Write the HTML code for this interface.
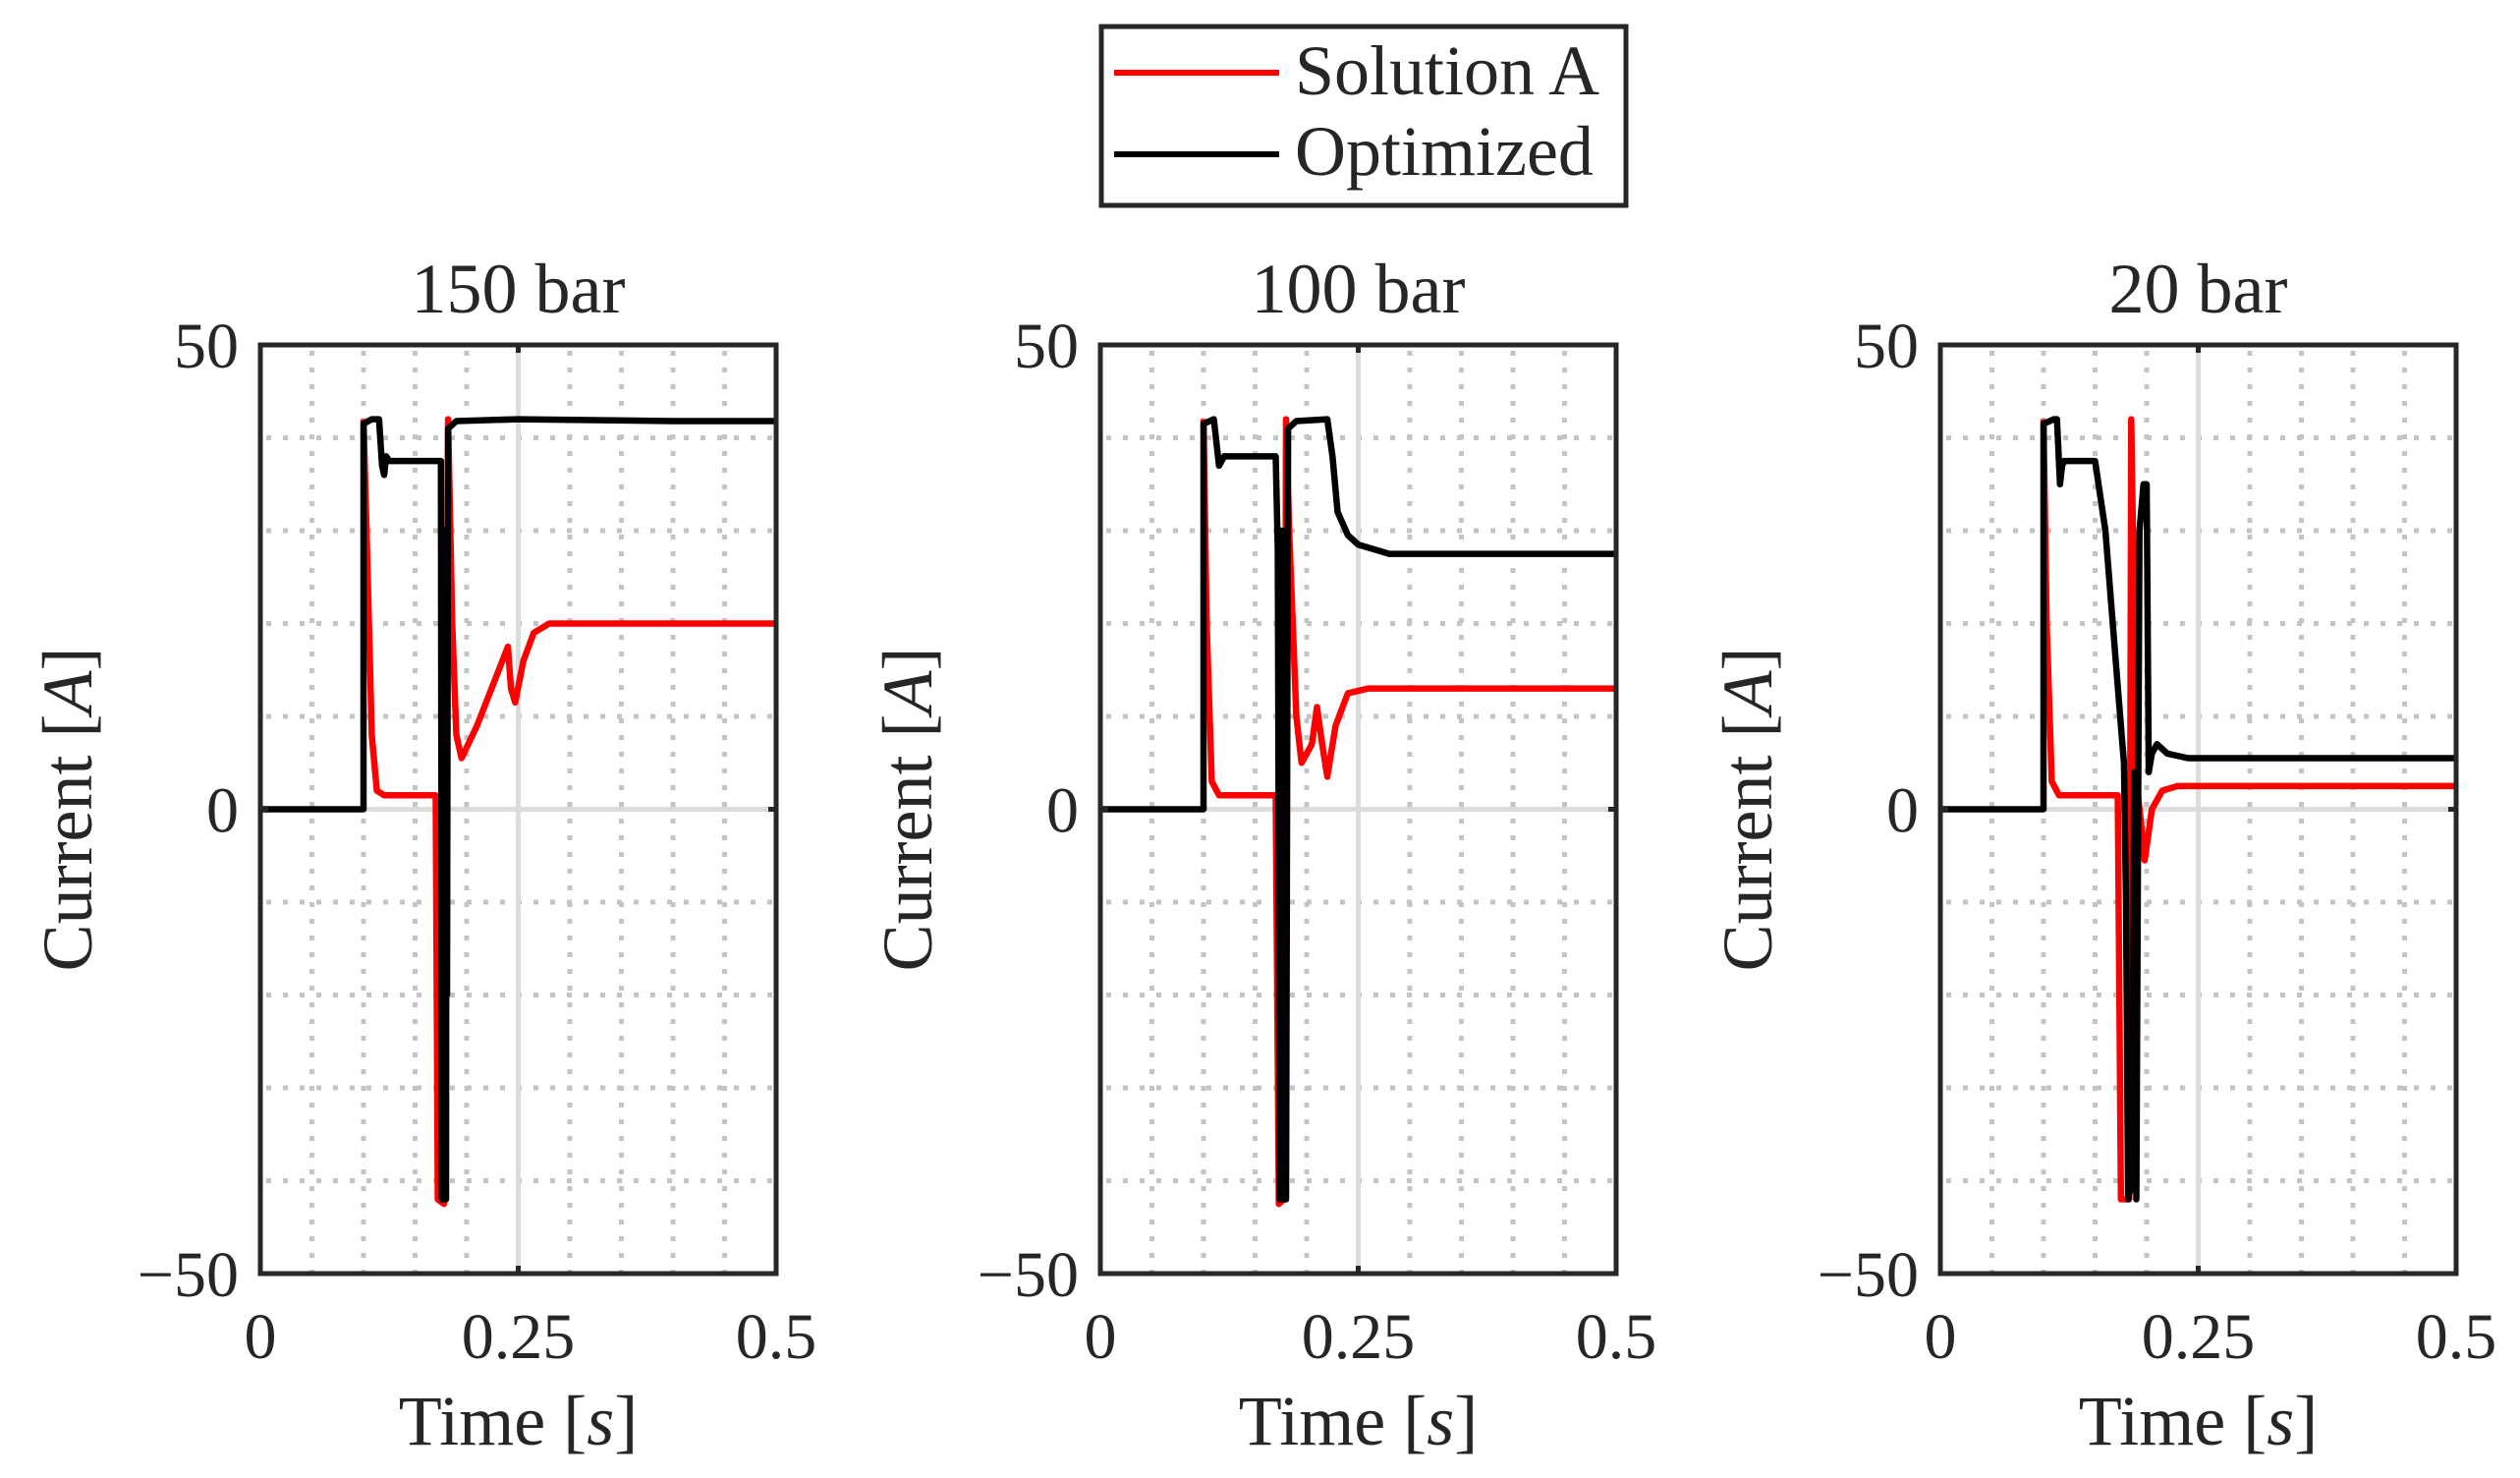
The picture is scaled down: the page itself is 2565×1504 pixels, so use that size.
<!DOCTYPE html>
<html><head><meta charset="utf-8"><style>
html,body{margin:0;padding:0;background:#fff;}
svg{display:block;}
text{font-family:"Liberation Serif",serif;fill:#262626;}
</style></head><body>
<svg id="fig" width="2565" height="1504" viewBox="0 0 2565 1504" xmlns="http://www.w3.org/2000/svg">
<g id="legend">
<rect x="1121" y="27" width="534" height="182" fill="#fff" stroke="#262626" stroke-width="5"/>
<g><line x1="1134" y1="74" x2="1302" y2="74" stroke="#ff0000" stroke-width="6"/><text x="1318" y="96" font-size="72" fill="#000">Solution A</text></g>
<g><line x1="1134" y1="157" x2="1302" y2="157" stroke="#000" stroke-width="6"/><text x="1318" y="178" font-size="72" fill="#000">Optimized</text></g>
</g>
</svg>
<script>
const titles = ["150 bar","100 bar","20 bar"];
const xTicks = [0,0.25,0.5];
const xTickLabels = ["0","0.25","0.5"];
const yTicks = [-50,0,50];
const yTickLabels = ["\u221250","0","50"];
const opt150t = [0,0.1,0.1,0.108,0.115,0.118,0.12,0.122,0.125,0.175,0.176,0.1765,0.177,0.1775,0.178,0.1785,0.179,0.1795,0.18,0.1805,0.181,0.182,0.19,0.25,0.4,0.5];
const opt150v = [0,0,41.5,42,42,37,36,38,37.5,37.5,-42,30,-42,30,-42,30,-42,30,-42,30,-20,41,41.8,42,41.8,41.8];
const solA150t = [0.1,0.103,0.108,0.113,0.12,0.17,0.172,0.178,0.182,0.186,0.19,0.195,0.21,0.24,0.243,0.247,0.255,0.265,0.28,0.5];
const solA150v = [42,30,8,2,1.5,1.5,-42,-42.5,42,20,8,5.5,9,17.5,13,11.5,16,19,20,20];
const opt100t = [0,0.1,0.1,0.11,0.115,0.12,0.17,0.172,0.174,0.175,0.176,0.177,0.178,0.179,0.18,0.182,0.19,0.22,0.225,0.23,0.24,0.25,0.28,0.5];
const opt100v = [0,0,41.5,42,37,38,38,28,-42,30,-42,30,-42,30,-42,41,41.8,42,38,32,29.5,28.5,27.5,27.5];
const solA100t = [0.1,0.103,0.108,0.115,0.17,0.173,0.178,0.18,0.183,0.19,0.195,0.205,0.21,0.215,0.22,0.228,0.24,0.26,0.5];
const solA100v = [42,20,3,1.5,1.5,-42.5,-42,42,30,10,5,7,11,7,3.5,9,12.5,13,13];
const opt20t = [0,0.1,0.1,0.11,0.113,0.116,0.118,0.12,0.15,0.16,0.17,0.175,0.178,0.18,0.182,0.186,0.188,0.19,0.193,0.197,0.2,0.202,0.205,0.21,0.22,0.24,0.5];
const opt20v = [0,0,41.5,42,42,35,37,37.5,37.5,30,16,9,5,-10,-42,-40,4,-42,30,35,35,4,6,7,6,5.5,5.5];
const solA20t = [0.1,0.103,0.108,0.115,0.17,0.172,0.175,0.18,0.183,0.185,0.188,0.19,0.195,0.198,0.2,0.205,0.215,0.23,0.5];
const solA20v = [42,20,3,1.5,1.5,1.5,-42,-42,-42,42,20,3,-2,-5.5,-4,0,2,2.5,2.5];
const seriesT = [[solA150t,opt150t],[solA100t,opt100t],[solA20t,opt20t]];
const seriesV = [[solA150v,opt150v],[solA100v,opt100v],[solA20v,opt20v]];
const NS="http://www.w3.org/2000/svg";
const svg=document.getElementById('fig');
const lefts=[265,1120,1975], W=525, T=351, B=1296;
function mk(tag,attrs,parent){const e=document.createElementNS(NS,tag);for(const k in attrs)e.setAttribute(k,attrs[k]);parent.appendChild(e);return e;}
for(let p=0;p<3;p++){
  const L=lefts[p], R=L+W;
  const xs=t=>L+t/0.5*W, ys=v=>T+(50-v)/100*(B-T);
  const g=mk('g',{},svg);
  
  
  for(let i=1;i<10;i++){ if(i===5)continue; const l=mk('line',{x1:xs(i*0.05),x2:xs(i*0.05),y1:T+6,y2:B,stroke:'#c4c4c4','stroke-width':5,'stroke-dasharray':'5 12'},g);
     }
  for(let v=-40;v<=40;v+=10){ if(v===0)continue; const l=mk('line',{x1:L+6,x2:R,y1:ys(v),y2:ys(v),stroke:'#c4c4c4','stroke-width':5,'stroke-dasharray':'5 12'},g);
     }
  const gx=mk('line',{x1:xs(0.25),x2:xs(0.25),y1:T,y2:B,stroke:'#dcdcdc','stroke-width':5},g);
   
  const gy=mk('line',{x1:L,x2:R,y1:ys(0),y2:ys(0),stroke:'#dcdcdc','stroke-width':5},g);
   
  const colors=['#ff0000','#000000'], names=['solution-a-line','optimized-line'];
  for(let s=0;s<2;s++){
    const tt=seriesT[p][s], vv=seriesV[p][s];
    const d=tt.map((t,i)=>(i?'L':'M')+xs(t).toFixed(1)+' '+ys(vv[i]).toFixed(1)).join(' ');
    const path=mk('path',{d:d,fill:'none',stroke:colors[s],'stroke-width':6.5,'stroke-linejoin':'round'},g);
     
  }
  const box=mk('rect',{x:L,y:T,width:W,height:B-T,fill:'none',stroke:'#262626','stroke-width':5},g);
   
  xTicks.forEach((t,i)=>{
    mk('line',{x1:xs(t),x2:xs(t),y1:B,y2:B-8,stroke:'#262626','stroke-width':5},g);
    mk('line',{x1:xs(t),x2:xs(t),y1:T,y2:T+8,stroke:'#262626','stroke-width':5},g);
    const tx=mk('text',{x:xs(t),y:1382,'font-size':66,'text-anchor':'middle'},g); tx.textContent=xTickLabels[i];
     
  });
  yTicks.forEach((v,i)=>{
    mk('line',{x1:L,x2:L+8,y1:ys(v),y2:ys(v),stroke:'#262626','stroke-width':5},g);
    mk('line',{x1:R,x2:R-8,y1:ys(v),y2:ys(v),stroke:'#262626','stroke-width':5},g);
    const tx=mk('text',{x:L-22,y:ys(v)+23,'font-size':66,'text-anchor':'end'},g); tx.textContent=yTickLabels[i];
     
  });
  const ti=mk('text',{x:L+W/2,y:318,'font-size':72,'text-anchor':'middle',fill:'#000'},g); ti.textContent=titles[p];
   
  const xl=mk('text',{x:L+W/2,y:1470,'font-size':72,'text-anchor':'middle'},g); xl.innerHTML='Time [<tspan font-style="italic">s</tspan>]';
   
  const yl=mk('text',{x:0,y:0,'font-size':72,'text-anchor':'middle',transform:`translate(${L-172},${(T+B)/2}) rotate(-90)`},g); yl.innerHTML='Current [<tspan font-style="italic">A</tspan>]';
   
}
</script>
</body></html>
